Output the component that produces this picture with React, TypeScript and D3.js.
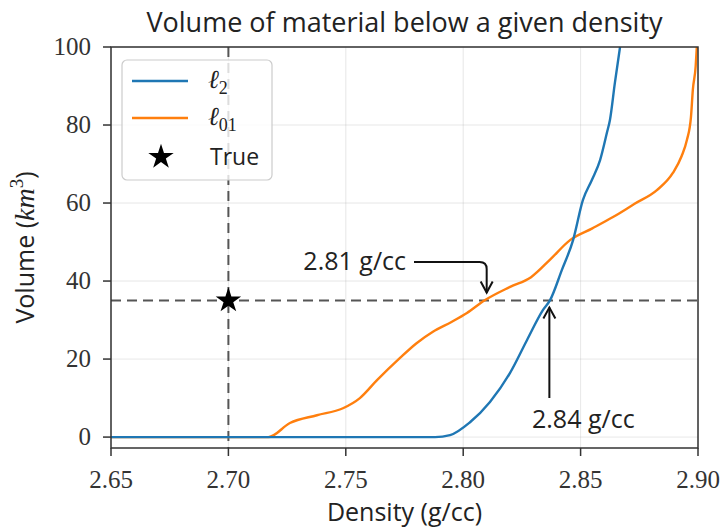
import React, { useRef, useEffect } from "react";
import * as d3 from "d3";

// l2 inversion: cumulative volume below each density
const l2Density = [2.65, 2.788, 2.7944, 2.8029, 2.8114, 2.8199, 2.8272, 2.834, 2.837, 2.842, 2.8468, 2.851, 2.8548, 2.8583, 2.8612, 2.8625, 2.8646, 2.8668];
const l2Volume = [0, 0, 0.5, 3.8, 9.0, 16.4, 24.9, 32.6, 35.1, 42.8, 50.5, 60.8, 65.9, 71, 78, 81.3, 90.8, 100];

// l01 inversion
const l01Density = [2.65, 2.717, 2.7262, 2.7377, 2.7488, 2.756, 2.7633, 2.7731, 2.78, 2.7871, 2.795, 2.8016, 2.809, 2.82, 2.8289, 2.837, 2.8455, 2.855, 2.8638, 2.873, 2.8825, 2.8893, 2.893, 2.8953, 2.897, 2.8978, 2.899, 2.8995];
const l01Volume = [0, 0, 3.6, 5.6, 7.4, 10.0, 14.6, 20.3, 24, 27, 29.5, 31.8, 35, 38.5, 41, 45.5, 50.5, 53.5, 56.4, 59.8, 63.3, 67.7, 72, 76.2, 82, 89, 95, 100];

const trueDensity = 2.7;
const trueVolume = 35;

const xTicks = [2.65, 2.7, 2.75, 2.8, 2.85, 2.9];
const yTicks = [0, 20, 40, 60, 80, 100];

const annL01 = { label: "2.81 g/cc", x: 2.81, y: 35 };
const annL2 = { label: "2.84 g/cc", x: 2.8367, y: 35 };

const BLUE = "#1f77b4";
const ORANGE = "#ff7f0e";
const SANS = "'Open Sans', 'DejaVu Sans', sans-serif";
const SERIF = "'Liberation Serif', 'DejaVu Serif', serif";

const App = () => {
  const wrapper = useRef(null);
  const width = 724;
  const height = 528;
  const left = 111;
  const right = 698;
  const top = 47;
  const bottom = 448;

  useEffect(() => {
    document.body.style.margin = "0";
    d3.select(wrapper.current).selectAll("svg").remove();

    const svg = d3
      .select(wrapper.current)
      .append("svg")
      .attr("width", width)
      .attr("height", height)
      .style("display", "block")
      .style("background", "white");

    const x = d3.scaleLinear().domain([2.65, 2.9]).range([left, right]);
    const y = d3.scaleLinear().domain([-2.8, 100]).range([bottom, top]);

    // grid
    svg
      .selectAll("line.gx")
      .data(xTicks)
      .enter()
      .append("line")
      .attr("x1", (d) => x(d))
      .attr("x2", (d) => x(d))
      .attr("y1", top)
      .attr("y2", bottom)
      .attr("stroke", "#b0b0b0")
      .attr("stroke-opacity", 0.3)
      .attr("stroke-width", 1);
    svg
      .selectAll("line.gy")
      .data(yTicks)
      .enter()
      .append("line")
      .attr("x1", left)
      .attr("x2", right)
      .attr("y1", (d) => y(d))
      .attr("y2", (d) => y(d))
      .attr("stroke", "#b0b0b0")
      .attr("stroke-opacity", 0.3)
      .attr("stroke-width", 1);

    // dashed reference lines
    svg
      .append("line")
      .attr("x1", x(trueDensity))
      .attr("x2", x(trueDensity))
      .attr("y1", top)
      .attr("y2", bottom)
      .attr("stroke", "#555")
      .attr("stroke-width", 2)
      .attr("stroke-dasharray", "10,6");
    svg
      .append("line")
      .attr("x1", left)
      .attr("x2", right)
      .attr("y1", y(trueVolume))
      .attr("y2", y(trueVolume))
      .attr("stroke", "#555")
      .attr("stroke-width", 2)
      .attr("stroke-dasharray", "10,6");

    const plotSeries = (xs: number[], ys: number[], color: string) => {
      const pts = xs.map((d, i) => [x(d), y(ys[i])] as [number, number]);
      svg
        .append("path")
        .attr("d", d3.line().curve(d3.curveMonotoneX)(pts))
        .attr("fill", "none")
        .attr("stroke", color)
        .attr("stroke-width", 2.4)
        .attr("stroke-linejoin", "round");
    };
    plotSeries(l01Density, l01Volume, ORANGE);
    plotSeries(l2Density, l2Volume, BLUE);

    const star = d3.symbol().type(d3.symbolStar).size(200);
    svg
      .append("path")
      .attr("d", star())
      .attr("transform", `translate(${x(trueDensity)},${y(trueVolume)})`)
      .attr("fill", "black");

    // frame + ticks
    svg
      .append("rect")
      .attr("x", left)
      .attr("y", top)
      .attr("width", right - left)
      .attr("height", bottom - top)
      .attr("fill", "none")
      .attr("stroke", "#333")
      .attr("stroke-width", 1.5);

    svg
      .selectAll("line.tx")
      .data(xTicks)
      .enter()
      .append("line")
      .attr("x1", (d) => x(d))
      .attr("x2", (d) => x(d))
      .attr("y1", bottom)
      .attr("y2", bottom + 8)
      .attr("stroke", "#333")
      .attr("stroke-width", 1.5);
    svg
      .selectAll("text.tx")
      .data(xTicks)
      .enter()
      .append("text")
      .attr("x", (d) => x(d))
      .attr("y", 488)
      .attr("text-anchor", "middle")
      .attr("font-family", SERIF)
      .attr("font-size", 25)
      .attr("fill", "#333")
      .text((d) => d.toFixed(2));

    svg
      .selectAll("line.ty")
      .data(yTicks)
      .enter()
      .append("line")
      .attr("x1", left - 8)
      .attr("x2", left)
      .attr("y1", (d) => y(d))
      .attr("y2", (d) => y(d))
      .attr("stroke", "#333")
      .attr("stroke-width", 1.5);
    svg
      .selectAll("text.ty")
      .data(yTicks)
      .enter()
      .append("text")
      .attr("x", 91)
      .attr("y", (d) => y(d))
      .attr("dy", "0.33em")
      .attr("text-anchor", "end")
      .attr("font-family", SERIF)
      .attr("font-size", 25)
      .attr("fill", "#333")
      .text((d) => d);

    // title and axis labels
    svg
      .append("text")
      .attr("x", (left + right) / 2)
      .attr("y", 32)
      .attr("text-anchor", "middle")
      .attr("font-family", SANS)
      .attr("font-size", 27)
      .attr("fill", "#222")
      .text("Volume of material below a given density");

    svg
      .append("text")
      .attr("x", (left + right) / 2)
      .attr("y", 521)
      .attr("text-anchor", "middle")
      .attr("font-family", SANS)
      .attr("font-size", 25)
      .attr("fill", "#222")
      .text("Density (g/cc)");

    const yl = svg
      .append("text")
      .attr("transform", `translate(34,${(top + bottom) / 2}) rotate(-90)`)
      .attr("text-anchor", "middle")
      .attr("font-family", SANS)
      .attr("font-size", 25)
      .attr("fill", "#222");
    yl.append("tspan").text("Volume (");
    yl.append("tspan").attr("font-family", SERIF).attr("font-style", "italic").attr("font-size", 28).text("km");
    yl.append("tspan").attr("font-family", SERIF).attr("font-size", 19).attr("dy", -11).text("3");
    yl.append("tspan").attr("dy", 11).text(")");

    // annotations
    const arrowHead = (tx: number, ty: number, dir: number) => {
      // dir: 1 = pointing down, -1 = pointing up
      svg
        .append("path")
        .attr("d", `M${tx - 6},${ty - dir * 11}L${tx},${ty}L${tx + 6},${ty - dir * 11}`)
        .attr("fill", "none")
        .attr("stroke", "#111")
        .attr("stroke-width", 2);
    };

    const a1x = x(annL01.x);
    const a1y = y(annL01.y);
    svg
      .append("text")
      .attr("x", 406)
      .attr("y", 270)
      .attr("text-anchor", "end")
      .attr("font-family", SANS)
      .attr("font-size", 25)
      .attr("fill", "#222")
      .text(annL01.label);
    svg
      .append("path")
      .attr("d", `M414,262H${a1x - 7}Q${a1x},262 ${a1x},269V${a1y - 8}`)
      .attr("fill", "none")
      .attr("stroke", "#111")
      .attr("stroke-width", 2);
    arrowHead(a1x, a1y - 8, 1);

    const a2x = x(annL2.x);
    const a2y = y(annL2.y);
    svg
      .append("text")
      .attr("x", 532)
      .attr("y", 428)
      .attr("font-family", SANS)
      .attr("font-size", 25)
      .attr("fill", "#222")
      .text(annL2.label);
    svg
      .append("line")
      .attr("x1", a2x)
      .attr("x2", a2x)
      .attr("y1", 398)
      .attr("y2", a2y + 7)
      .attr("stroke", "#111")
      .attr("stroke-width", 2);
    arrowHead(a2x, a2y + 7, -1);

    // legend
    const lg = svg.append("g");
    lg.append("rect")
      .attr("x", 122)
      .attr("y", 60)
      .attr("width", 150)
      .attr("height", 120)
      .attr("rx", 5)
      .attr("fill", "white")
      .attr("fill-opacity", 0.8)
      .attr("stroke", "#ccc")
      .attr("stroke-width", 1.2);
    const entries = [
      { color: BLUE, sub: "2", y: 81 },
      { color: ORANGE, sub: "01", y: 118 },
    ];
    entries.forEach((e) => {
      lg.append("line")
        .attr("x1", 132)
        .attr("x2", 188)
        .attr("y1", e.y)
        .attr("y2", e.y)
        .attr("stroke", e.color)
        .attr("stroke-width", 2.4);
      const t = lg
        .append("text")
        .attr("x", 208)
        .attr("y", e.y + 7)
        .attr("font-family", SERIF)
        .attr("fill", "#222");
      t.append("tspan").attr("font-style", "italic").attr("font-size", 26).text("ℓ");
      t.append("tspan").attr("font-size", 18).attr("dy", 6).text(e.sub);
    });
    lg.append("path")
      .attr("d", star())
      .attr("transform", "translate(161,157)")
      .attr("fill", "black");
    lg.append("text")
      .attr("x", 210)
      .attr("y", 165)
      .attr("font-family", SANS)
      .attr("font-size", 23)
      .attr("fill", "#222")
      .text("True");
  }, []);

  return <div ref={wrapper}></div>;
};

export default App;
